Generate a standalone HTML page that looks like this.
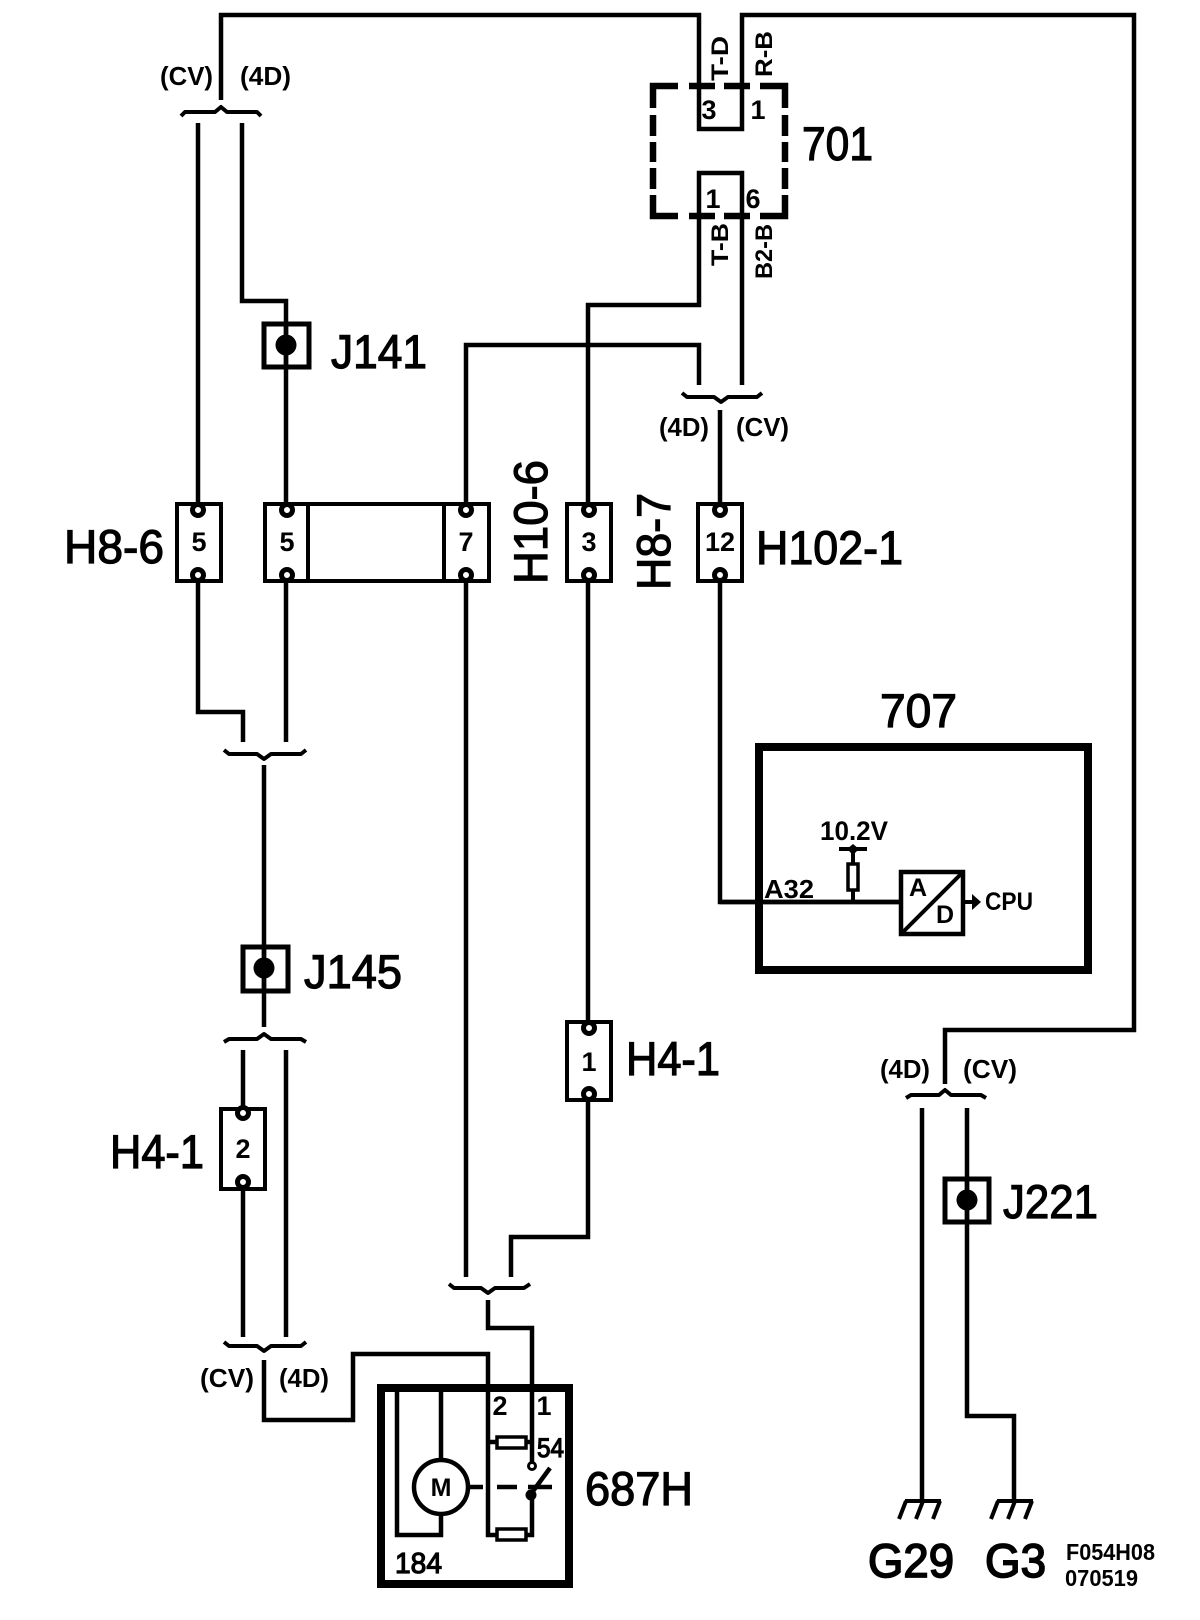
<!DOCTYPE html>
<html><head><meta charset="utf-8"><style>
html,body{margin:0;padding:0;background:#fff}
svg{display:block}
text{font-family:"Liberation Sans",sans-serif;fill:#000}
.b{font-weight:bold}
.r{stroke:#000;stroke-width:1.2}
.w{fill:none;stroke:#000;stroke-width:4.5;stroke-linejoin:miter;stroke-linecap:butt}
.d{fill:none;stroke:#000;stroke-width:6.5;stroke-linecap:butt}
.t{fill:#fff;stroke:#000;stroke-width:4}
.p{fill:#fff;stroke:#000;stroke-width:5}
</style></head><body>
<svg width="1200" height="1620" viewBox="0 0 1200 1620" xmlns="http://www.w3.org/2000/svg">
<rect width="1200" height="1620" fill="#fff"/>

<!-- wires -->
<g class="w">
<path d="M221 100V15H699V129H742V15H1134V1030H945V1084"/>
<path d="M198 123V503"/>
<path d="M242 123V301H286V503"/>
<path d="M466 503V345H699V385"/>
<path d="M588 503V305H699V173H742V385"/>
<path d="M720 410V503"/>
<path d="M198 582V712H243V742"/>
<path d="M286 582V742"/>
<path d="M264 765V1027"/>
<path d="M243 1050V1107"/>
<path d="M243 1190V1337"/>
<path d="M286 1050V1337"/>
<path d="M264 1360V1420H353V1354H488V1535H532V1497"/>
<path d="M466 582V1277"/>
<path d="M588 582V1020"/>
<path d="M588 1102V1237H511V1277"/>
<path d="M488 1300V1328H532V1463"/>
<path d="M720 582V902H899"/>
<path d="M922 1108V1501"/>
<path d="M967 1108V1416H1014V1501"/>
</g>

<!-- braces -->
<g fill="none" stroke="#000" stroke-width="4" stroke-linejoin="round">
<path d="M181 116L185 112H215L221 107L227 112H257L261 116"/>
<path d="M682 393L687 397H714L721 402L728 397H757L762 393"/>
<path d="M224 750L229 754H257L264 759L271 754H301L306 750"/>
<path d="M224 1042L229 1039H257L264 1034L271 1039H301L306 1042"/>
<path d="M224 1342L229 1346H257L264 1351L271 1346H301L306 1342"/>
<path d="M449 1284L454 1288H481L488 1293L495 1288H524L530 1284"/>
<path d="M906 1098L911 1095H939L945 1090L951 1095H981L986 1098"/>
</g>

<!-- 701 dashed box -->
<g class="d">
<path d="M678 86H653V108M689 86H715M724 86H750M760 86H785V108"/>
<path d="M653 115V136M653 142V162M653 168V189M653 195V216H678M689 216H715M724 216H750M760 216H785V195"/>
<path d="M785 115V136M785 142V162M785 168V189"/>
</g>

<!-- connector blocks -->
<g>
<rect class="t" x="177" y="504" width="44" height="77"/>
<rect class="t" x="265" y="504" width="224" height="77"/>
<path d="M308 504V581M444 504V581" stroke="#000" stroke-width="4"/>
<rect class="t" x="567" y="504" width="44" height="77"/>
<rect class="t" x="698" y="504" width="44" height="77"/>
<rect class="t" x="221" y="1109" width="44" height="80"/>
<rect class="t" x="567" y="1022" width="44" height="78"/>
</g>
<g>
<circle class="p" cx="198" cy="510" r="5.5"/><circle class="p" cx="198" cy="575" r="5.5"/>
<circle class="p" cx="287" cy="510" r="5.5"/><circle class="p" cx="287" cy="575" r="5.5"/>
<circle class="p" cx="466" cy="510" r="5.5"/><circle class="p" cx="466" cy="575" r="5.5"/>
<circle class="p" cx="589" cy="510" r="5.5"/><circle class="p" cx="589" cy="575" r="5.5"/>
<circle class="p" cx="720" cy="510" r="5.5"/><circle class="p" cx="720" cy="575" r="5.5"/>
<circle class="p" cx="243" cy="1113" r="5.5"/><circle class="p" cx="243" cy="1182" r="5.5"/>
<circle class="p" cx="589" cy="1028" r="5.5"/><circle class="p" cx="589" cy="1094" r="5.5"/>
</g>

<!-- splice J -->
<g fill="none" stroke="#000" stroke-width="5">
<rect x="264" y="324" width="45" height="43"/>
<rect x="243" y="947" width="45" height="44"/>
<rect x="945" y="1179" width="44" height="43"/>
</g>
<circle cx="286" cy="345" r="10.5"/><circle cx="264" cy="968" r="10.5"/><circle cx="967" cy="1200" r="10.5"/>
<g class="w"><path d="M286 322V368M264 945V992M967 1177V1223"/></g>

<!-- 707 -->
<rect x="759" y="747" width="329" height="223" fill="none" stroke="#000" stroke-width="8"/>
<path d="M720 902H899" stroke="#000" stroke-width="4.5"/>
<rect x="901" y="872" width="62" height="62" fill="#fff" stroke="#000" stroke-width="4.5"/>
<path d="M903 932L961 874" stroke="#000" stroke-width="4"/>
<path d="M964 902H975" stroke="#000" stroke-width="4"/>
<path d="M972 894L981 902L972 910Z"/>
<path d="M853 848V902" stroke="#000" stroke-width="4"/>
<path d="M839 849H867" stroke="#000" stroke-width="4"/>
<path d="M847 849L853 844L859 849L853 855Z"/>
<rect x="848" y="864" width="10" height="26" fill="#fff" stroke="#000" stroke-width="3.5"/>

<!-- 687H -->
<rect x="381" y="1388" width="188" height="196" fill="none" stroke="#000" stroke-width="8"/>
<g class="w">
<path d="M397 1388V1535H441V1513"/>
<path d="M441 1388V1460"/>
<path d="M469 1487H483"/>
<path d="M497 1487H517"/>
<path d="M488 1442H532"/>
<path d="M528 1487H552"/>
<path d="M528 1498L550 1468"/>
</g>
<circle cx="441" cy="1487" r="27" fill="#fff" stroke="#000" stroke-width="4.5"/>
<rect x="497" y="1437" width="29" height="11" fill="#fff" stroke="#000" stroke-width="3.5"/>
<rect x="497" y="1529" width="29" height="11" fill="#fff" stroke="#000" stroke-width="3.5"/>
<circle cx="532" cy="1466" r="3.5" fill="#fff" stroke="#000" stroke-width="3"/>
<circle cx="531" cy="1495" r="5.5"/>

<!-- grounds -->
<g fill="none" stroke="#000" stroke-width="4">
<path d="M905 1501H941M906 1501L899 1519M923 1501L916 1519M940 1501L933 1519"/>
<path d="M997 1501H1033M998 1501L991 1519M1015 1501L1008 1519M1032 1501L1025 1519"/>
</g>

<!-- small labels -->
<text class="b" x="160" y="85" font-size="26" textLength="53" lengthAdjust="spacingAndGlyphs">(CV)</text>
<text class="b" x="240" y="85" font-size="26" textLength="51" lengthAdjust="spacingAndGlyphs">(4D)</text>
<text class="b" x="659" y="436" font-size="26" textLength="50" lengthAdjust="spacingAndGlyphs">(4D)</text>
<text class="b" x="736" y="436" font-size="26" textLength="53" lengthAdjust="spacingAndGlyphs">(CV)</text>
<text class="b" x="200" y="1387" font-size="26" textLength="54" lengthAdjust="spacingAndGlyphs">(CV)</text>
<text class="b" x="279" y="1387" font-size="26" textLength="50" lengthAdjust="spacingAndGlyphs">(4D)</text>
<text class="b" x="880" y="1078" font-size="26" textLength="50" lengthAdjust="spacingAndGlyphs">(4D)</text>
<text class="b" x="963" y="1078" font-size="26" textLength="54" lengthAdjust="spacingAndGlyphs">(CV)</text>

<text class="b" transform="translate(728,81) rotate(-90)" font-size="24" textLength="45" lengthAdjust="spacingAndGlyphs">T-D</text>
<text class="b" transform="translate(772,77) rotate(-90)" font-size="24" textLength="46" lengthAdjust="spacingAndGlyphs">R-B</text>
<text class="b" transform="translate(728,266) rotate(-90)" font-size="24" textLength="43" lengthAdjust="spacingAndGlyphs">T-B</text>
<text class="b" transform="translate(772,279) rotate(-90)" font-size="24" textLength="55" lengthAdjust="spacingAndGlyphs">B2-B</text>

<g class="b" font-size="27" text-anchor="middle">
<text x="709" y="119">3</text><text x="758" y="119">1</text>
<text x="713" y="208">1</text><text x="753" y="208">6</text>
<text x="199" y="551">5</text><text x="287" y="551">5</text><text x="466" y="551">7</text>
<text x="589" y="551">3</text><text x="720" y="551">12</text>
<text x="243" y="1158">2</text><text x="589" y="1071">1</text>
<text x="500" y="1415">2</text><text x="544" y="1415">1</text>
<text x="441" y="1496" font-size="25">M</text>
<text x="918" y="896" font-size="25">A</text><text x="945" y="923" font-size="25">D</text>
</g>
<text x="537" y="1457" font-size="27" textLength="27" lengthAdjust="spacingAndGlyphs" class="r">54</text>
<text x="395" y="1573" font-size="29" textLength="47" lengthAdjust="spacingAndGlyphs" class="r">184</text>
<text class="b" x="764" y="898" font-size="26" textLength="50" lengthAdjust="spacingAndGlyphs">A32</text>
<text class="b" x="820" y="840" font-size="27" textLength="68" lengthAdjust="spacingAndGlyphs">10.2V</text>
<text class="b" x="985" y="910" font-size="25" textLength="48" lengthAdjust="spacingAndGlyphs">CPU</text>
<text class="b" x="1066" y="1560" font-size="23" textLength="89" lengthAdjust="spacingAndGlyphs">F054H08</text>
<text class="b" x="1065" y="1586" font-size="23" textLength="73" lengthAdjust="spacingAndGlyphs">070519</text>

<!-- big labels -->
<g font-size="47" class="r">
<text x="802" y="160" textLength="71" lengthAdjust="spacingAndGlyphs">701</text>
<text x="331" y="368" textLength="96" lengthAdjust="spacingAndGlyphs">J141</text>
<text x="64" y="563" textLength="100" lengthAdjust="spacingAndGlyphs">H8-6</text>
<text transform="translate(547,584) rotate(-90)" textLength="124" lengthAdjust="spacingAndGlyphs">H10-6</text>
<text transform="translate(670,590) rotate(-90)" textLength="97" lengthAdjust="spacingAndGlyphs">H8-7</text>
<text x="756" y="564" textLength="147" lengthAdjust="spacingAndGlyphs">H102-1</text>
<text x="880" y="727" textLength="77" lengthAdjust="spacingAndGlyphs">707</text>
<text x="304" y="988" textLength="98" lengthAdjust="spacingAndGlyphs">J145</text>
<text x="110" y="1168" textLength="94" lengthAdjust="spacingAndGlyphs">H4-1</text>
<text x="626" y="1075" textLength="94" lengthAdjust="spacingAndGlyphs">H4-1</text>
<text x="1003" y="1218" textLength="95" lengthAdjust="spacingAndGlyphs">J221</text>
<text x="585" y="1505" textLength="108" lengthAdjust="spacingAndGlyphs">687H</text>
<g stroke-width="1.7">
<text x="868" y="1577" textLength="86" lengthAdjust="spacingAndGlyphs">G29</text>
<text x="985" y="1577" textLength="61" lengthAdjust="spacingAndGlyphs">G3</text>
</g>
</g>
</svg>
</body></html>
